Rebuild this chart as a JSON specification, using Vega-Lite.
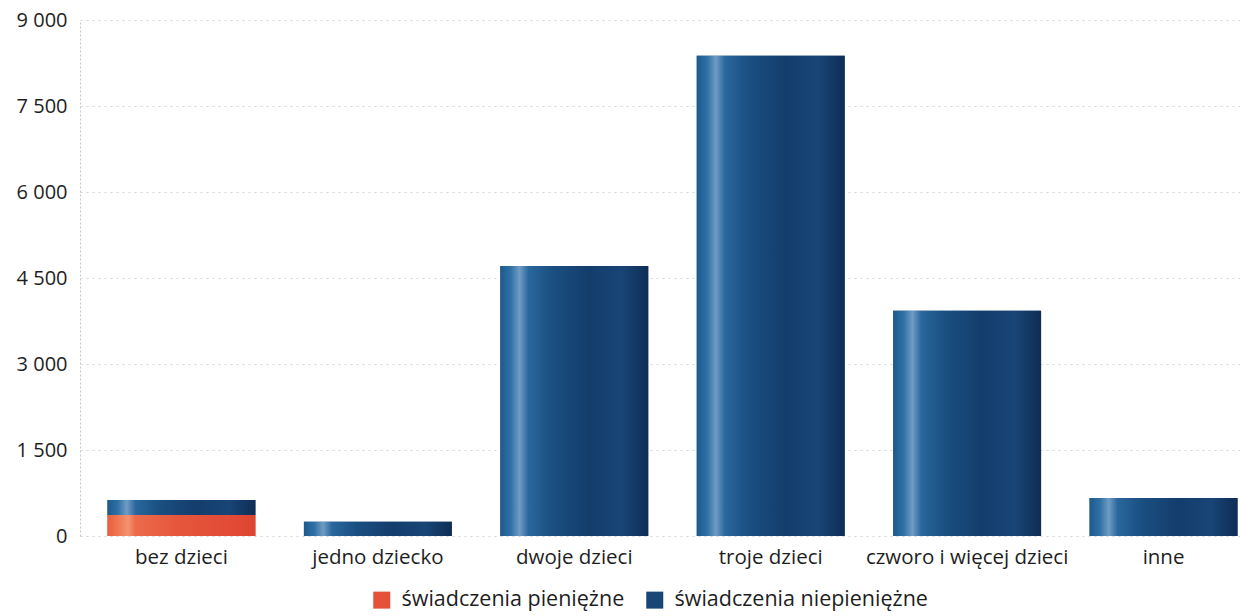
{
  "$schema": "https://vega.github.io/schema/vega-lite/v6.json",
  "autosize": "none",
  "padding": {"left": 80, "top": 20, "right": 0, "bottom": 80},
  "width": 1185,
  "height": 516,
  "background": "white",
  "data": {
    "values": [
      {"kategoria": "bez dzieci", "typ": "świadczenia pieniężne", "wartosc": 366},
      {"kategoria": "bez dzieci", "typ": "świadczenia niepieniężne", "wartosc": 262},
      {"kategoria": "jedno dziecko", "typ": "świadczenia niepieniężne", "wartosc": 249},
      {"kategoria": "dwoje dzieci", "typ": "świadczenia niepieniężne", "wartosc": 4709},
      {"kategoria": "troje dzieci", "typ": "świadczenia niepieniężne", "wartosc": 8377},
      {"kategoria": "czworo i więcej dzieci", "typ": "świadczenia niepieniężne", "wartosc": 3929},
      {"kategoria": "inne", "typ": "świadczenia niepieniężne", "wartosc": 663}
    ]
  },
  "encoding": {
    "x": {
      "field": "kategoria",
      "type": "nominal",
      "sort": ["bez dzieci", "jedno dziecko", "dwoje dzieci", "troje dzieci", "czworo i więcej dzieci", "inne"],
      "title": null,
      "scale": {"paddingInner": 0.247, "paddingOuter": 0.14},
      "axis": {
        "labelAngle": 0,
        "domain": false,
        "ticks": false,
        "labelPadding": 11,
        "labelFontSize": 20.5,
        "labelFont": "Open Sans",
        "labelColor": "#1e1e1e",
        "labelLimit": 0
      }
    },
    "y": {
      "field": "wartosc",
      "type": "quantitative",
      "stack": "zero",
      "title": null,
      "scale": {"domain": [0, 9000]},
      "axis": {
        "values": [0, 1500, 3000, 4500, 6000, 7500, 9000],
        "labelExpr": "replace(format(datum.value, ',d'), ',', ' ')",
        "labelFontSize": 20,
        "labelFont": "Open Sans",
        "labelColor": "#1e1e1e",
        "labelPadding": 13,
        "ticks": false,
        "domain": true,
        "domainColor": "#c8c8c8",
        "domainDash": [2, 2],
        "grid": true,
        "gridColor": "#d4d4d4",
        "gridDash": [2, 4],
        "gridWidth": 1
      }
    },
    "order": {"field": "typ", "sort": "descending"}
  },
  "layer": [
    {
      "mark": {"type": "bar"},
      "encoding": {
        "color": {
          "field": "typ",
          "type": "nominal",
          "scale": {
            "domain": ["świadczenia pieniężne", "świadczenia niepieniężne"],
            "range": ["#e4523a", "#184775"]
          },
          "legend": {
            "title": null,
            "orient": "none",
            "direction": "horizontal",
            "legendX": 291,
            "legendY": 569,
            "symbolType": "square",
            "symbolSize": 289,
            "symbolStrokeWidth": 0,
            "labelFontSize": 21.5,
            "labelFont": "Open Sans",
            "labelColor": "#1e1e1e",
            "labelOffset": 9,
            "labelLimit": 0,
            "columnPadding": 19
          }
        }
      }
    },
    {
      "mark": {"type": "bar"},
      "encoding": {
        "detail": {"field": "typ"},
        "color": {
          "condition": {
            "test": "datum.typ === 'świadczenia pieniężne'",
            "value": {
              "gradient": "linear", "x1": 0, "x2": 1, "y1": 0, "y2": 0,
              "stops": [
                {"offset": 0, "color": "#e85e3e"},
                {"offset": 0.08, "color": "#f07a55"},
                {"offset": 0.14, "color": "#f49270"},
                {"offset": 0.19, "color": "#ec6a4a"},
                {"offset": 0.5, "color": "#e5553c"},
                {"offset": 0.85, "color": "#e24a35"},
                {"offset": 1, "color": "#dc4530"}
              ]
            }
          },
          "value": {
            "gradient": "linear", "x1": 0, "x2": 1, "y1": 0, "y2": 0,
            "stops": [
              {"offset": 0, "color": "#1d5a8c"},
              {"offset": 0.07, "color": "#2f70a5"},
              {"offset": 0.13, "color": "#6f9cc4"},
              {"offset": 0.19, "color": "#2a679c"},
              {"offset": 0.35, "color": "#1a4f82"},
              {"offset": 0.6, "color": "#133d6b"},
              {"offset": 0.82, "color": "#184577"},
              {"offset": 1, "color": "#0e2d54"}
            ]
          }
        }
      }
    }
  ],
  "config": {
    "view": {"stroke": null},
    "font": "Open Sans"
  }
}
